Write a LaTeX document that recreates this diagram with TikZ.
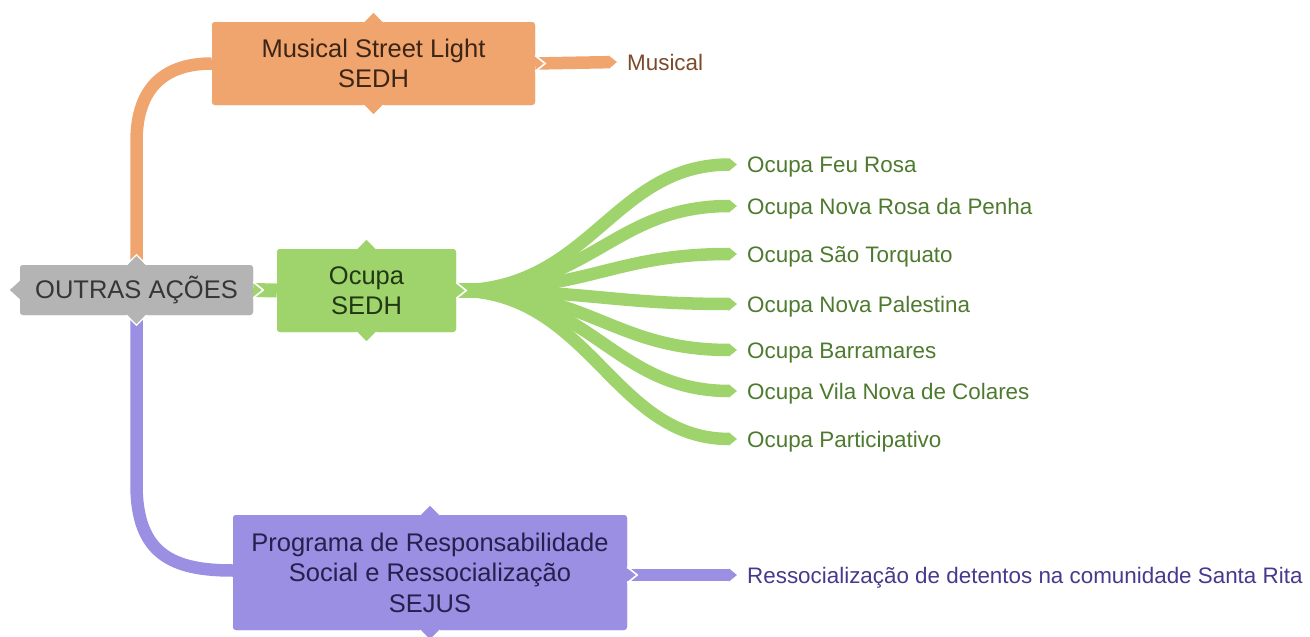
\documentclass[tikz,border=0pt]{standalone}
\usepackage{fontspec}
\setmainfont{Liberation Sans}
\usetikzlibrary{arrows.meta}
\definecolor{orf}{HTML}{F0A56F}
\definecolor{grf}{HTML}{9ED46B}
\definecolor{puf}{HTML}{9A8FE3}
\definecolor{gyf}{HTML}{B4B4B4}
\definecolor{ort}{HTML}{7B4A2B}
\definecolor{grt}{HTML}{4D7A2E}
\definecolor{put}{HTML}{47398C}
\definecolor{boxt}{HTML}{363636}
\newcommand{\boxfont}{\fontsize{25.5}{30.5}\selectfont}
\newcommand{\leaffont}{\fontsize{22.4}{26}\selectfont}
\begin{document}
\begin{tikzpicture}[x=1pt,y=-1pt,
  topicbox/.style={rounded corners=3pt, inner sep=0pt, align=center, font=\boxfont, text=boxt},
  leafnode/.style={anchor=base west, inner sep=0pt, font=\leaffont, text height=16pt, text depth=0pt},
  branch/.style={line width=12.5pt},
  tipped/.style={line width=12.5pt, -{Triangle[length=8pt,width=12.5pt]}},
  chev/.style={white, line width=1.6pt, line join=miter},
  ptr/.style={white, line width=1.3pt}
]
\useasboundingbox (0,0) rectangle (1310,637);

% nodes (positions needed first)
\node[topicbox, fill=gyf, minimum width=233pt, minimum height=50pt] (root) at (136.5,290) {OUTRAS AÇÕES};
\node[topicbox, fill=orf, minimum width=323pt, minimum height=83pt, text=ort!50!black] (mus) at (373.5,63.5) {Musical Street Light\\SEDH};
\node[topicbox, fill=grf, minimum width=179pt, minimum height=83pt, text=grt!45!black] (ocu) at (366.5,290.5) {Ocupa\\SEDH};
\node[topicbox, fill=puf, minimum width=394pt, minimum height=115pt, text=put!55!black] (prog) at (430,572.5) {Programa de Responsabilidade\\Social e Ressocialização\\SEJUS};

% leaves
\node[leafnode, text=ort] (lmus) at (627,70) {Musical};
\node[leafnode, text=grt] (l1) at (747,172.5) {Ocupa Feu Rosa};
\node[leafnode, text=grt] (l2) at (747,214) {Ocupa Nova Rosa da Penha};
\node[leafnode, text=grt] (l3) at (747,262) {Ocupa São Torquato};
\node[leafnode, text=grt] (l4) at (747,312) {Ocupa Nova Palestina};
\node[leafnode, text=grt] (l5) at (747,358) {Ocupa Barramares};
\node[leafnode, text=grt] (l6) at (747,399) {Ocupa Vila Nova de Colares};
\node[leafnode, text=grt] (l7) at (747,447) {Ocupa Participativo};
\node[leafnode, text=put] (lprog) at (747,583) {Ressocialização de detentos na comunidade Santa Rita};

% main branches
\draw[branch, orf] (root.north) -- ([yshift=-78pt]root.north |- mus.west) .. controls ([yshift=-22pt]root.north |- mus.west) and ([xshift=-45pt]mus.west) .. (mus.west);
\draw[branch, puf] (root.south) -- ([yshift=88pt]root.south |- prog.west) .. controls ([yshift=18pt]root.south |- prog.west) and ([xshift=-60pt,yshift=2pt]prog.west) .. ([yshift=2pt]prog.west);
\draw[line width=14pt, grf] (root.east) -- (ocu.west);
% leaf branches
\draw[tipped, orf] (mus.east) -- ([xshift=-10pt]lmus.west);
\draw[tipped, puf] ([yshift=-2.5pt]prog.east) -- ([xshift=-10pt]lprog.west);
\foreach \l in {l1,l2,l3,l4,l5,l6,l7}{
  \draw[tipped, grf] (ocu.east) .. controls ([xshift=135pt]ocu.east) and ([xshift=-135pt]\l.west) .. ([xshift=-10pt]\l.west);
}
\draw[line width=15pt, grf] (ocu.east) -- ([xshift=60pt]ocu.east);

% redraw boxes on top
\node[topicbox, fill=gyf, minimum width=233pt, minimum height=50pt] at (root) {OUTRAS AÇÕES};
\node[topicbox, fill=orf, minimum width=323pt, minimum height=83pt, text=ort!50!black] at (mus) {Musical Street Light\\SEDH};
\node[topicbox, fill=grf, minimum width=179pt, minimum height=83pt, text=grt!45!black] at (ocu) {Ocupa\\SEDH};
\node[topicbox, fill=puf, minimum width=394pt, minimum height=115pt, text=put!55!black] at (prog) {Programa de Responsabilidade\\Social e Ressocialização\\SEJUS};

% pointers on boxes (top / bottom)
\foreach \n/\c in {root/gyf,mus/orf,ocu/grf,prog/puf}{
  \fill[\c] ([xshift=-10pt,yshift=-1pt]\n.north) -- ([yshift=10pt]\n.north) -- ([xshift=10pt,yshift=-1pt]\n.north) -- cycle;
  \draw[ptr] ([xshift=-10pt]\n.north) -- ([yshift=10pt]\n.north) -- ([xshift=10pt]\n.north);
  \fill[\c] ([xshift=-10pt,yshift=1pt]\n.south) -- ([yshift=-10pt]\n.south) -- ([xshift=10pt,yshift=1pt]\n.south) -- cycle;
  \draw[ptr] ([xshift=-10pt]\n.south) -- ([yshift=-10pt]\n.south) -- ([xshift=10pt]\n.south);
}
% left pointer of root
\fill[gyf] ([yshift=10pt,xshift=1pt]root.west) -- ([xshift=-10pt]root.west) -- ([yshift=-10pt,xshift=1pt]root.west) -- cycle;
% chevrons at connector starts
\foreach \n in {root,mus,ocu}{
  \draw[chev] ([yshift=8pt]\n.east) -- ([xshift=10pt]\n.east) -- ([yshift=-8pt]\n.east);
}
\draw[chev] ([yshift=5.5pt]prog.east) -- ([xshift=10pt,yshift=-2.5pt]prog.east) -- ([yshift=-10.5pt]prog.east);
\end{tikzpicture}
\end{document}
